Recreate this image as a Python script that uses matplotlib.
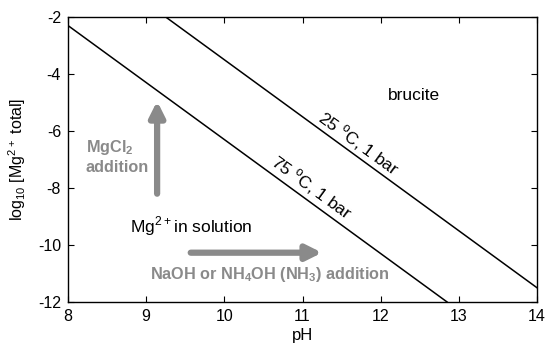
import matplotlib
matplotlib.use("Agg")
import matplotlib.pyplot as plt

plt.rcParams["font.family"] = ["Liberation Sans", "DejaVu Sans"]
plt.rcParams["axes.unicode_minus"] = False
plt.rcParams["mathtext.fontset"] = "custom"
plt.rcParams["mathtext.rm"] = "Liberation Sans"
plt.rcParams["mathtext.bf"] = "Liberation Sans:bold"

# brucite saturation lines (pH, log10 Mg total)
ph_25 = [9.25, 14.0]
logmg_25 = [-2.0, -11.5]
ph_75 = [8.0, 12.85]
logmg_75 = [-2.3, -12.0]

xticks = [8, 9, 10, 11, 12, 13, 14]
yticks = [-12, -10, -8, -6, -4, -2]

fig = plt.figure(figsize=(5.46, 3.56), dpi=100)
ax = fig.add_axes([68 / 546, 1 - 302 / 356, 469 / 546, 285 / 356])

ax.plot(ph_25, logmg_25, color="black", lw=1.1)
ax.plot(ph_75, logmg_75, color="black", lw=1.1)

ax.set_xlim(8, 14)
ax.set_ylim(-12, -2)
ax.set_xticks(xticks)
ax.set_yticks(yticks)
ax.tick_params(direction="in", top=True, right=True, labelsize=11.5, length=4, pad=5)
for s in ax.spines.values():
    s.set_linewidth(1.0)

ax.set_xlabel("pH", fontsize=12, labelpad=3)
ax.set_ylabel("log$_{10}$ [Mg$^{2+}$ total]", fontsize=11.5, labelpad=7)

fs = 12.5
# labels
ax.text(12.09, -4.75, "brucite", fontsize=fs, va="center", ha="left")
ax.text(11.72, -6.45, "25 $^{\\mathregular{o}}$C, 1 bar", fontsize=fs,
        rotation=-36, ha="center", va="center", rotation_mode="anchor")
ax.text(11.12, -8.0, "75 $^{\\mathregular{o}}$C, 1 bar", fontsize=fs,
        rotation=-36, ha="center", va="center", rotation_mode="anchor")
ax.text(8.79, -9.33, "Mg$^{2+}$in solution", fontsize=fs, va="center", ha="left")

grey = "#8a8a8a"
ax.annotate("", xy=(9.14, -4.95), xytext=(9.14, -8.2),
            arrowprops=dict(arrowstyle="-|>,head_length=0.9,head_width=0.45",
                            color=grey, lw=4.5, shrinkA=0, shrinkB=0))
ax.annotate("", xy=(11.25, -10.27), xytext=(9.57, -10.27),
            arrowprops=dict(arrowstyle="-|>,head_length=0.9,head_width=0.45",
                            color=grey, lw=4.5, shrinkA=0, shrinkB=0))
bfs = 11.7
ax.text(8.23, -6.9, "MgCl$_\\mathbf{2}$\naddition", fontsize=bfs, fontweight="bold",
        color=grey, va="center", ha="left", linespacing=1.2)
ax.text(9.05, -11.05, "NaOH or NH$_\\mathbf{4}$OH (NH$_\\mathbf{3}$) addition", fontsize=bfs,
        fontweight="bold", color=grey, va="center", ha="left")

fig.savefig("out.png", dpi=100)
